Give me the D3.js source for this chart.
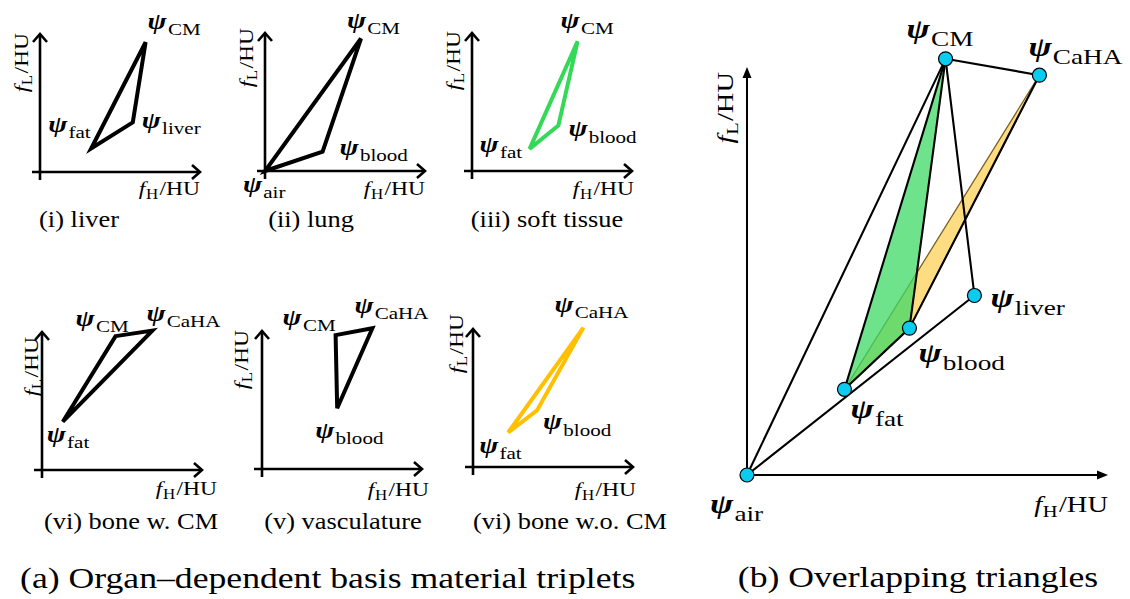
<!DOCTYPE html>
<html><head><meta charset="utf-8">
<script src="https://cdn.jsdelivr.net/npm/d3@7"></script>
<style>body{margin:0;background:#fff} svg{display:block}</style>
</head><body><svg id="c" width="1130" height="599"></svg>
<script>
// ---------- DATA ----------
const panelNames = ["(i) liver", "(ii) lung", "(iii) soft tissue", "(vi) bone w. CM", "(v) vasculature", "(vi) bone w.o. CM"];
const panelMaterials = [["CM","liver","fat"], ["CM","blood","air"], ["CM","blood","fat"], ["CM","CaHA","fat"], ["CM","CaHA","blood"], ["CaHA","blood","fat"]];
const panelFH = [[66,58,32], [60,36,0], [66,54,36], [46,69,13], [46,69,47], [69,40,22]];
const panelFL = [[94,36,17], [96,14,0], [94,33,16], [97,101,35], [97,102,44], [101,41,25]];
const panelColors = ["#000", "#000", "#33d957", "#000", "#000", "#ffc000"];

const overviewMaterials = ["air", "fat", "blood", "liver", "CM", "CaHA"];
const overviewFH = [0, 27, 45, 63, 55, 81];
const overviewFL = [0, 21, 36, 44, 102, 98];
const overviewEdges = [["air","CM"], ["air","liver"], ["CM","CaHA"], ["CM","liver"], ["CM","fat"], ["CM","blood"], ["fat","blood"], ["blood","CaHA"]];
const greenTriangle = ["fat", "CM", "blood"];
const orangeTriangle = ["fat", "blood", "CaHA"];

const captionA = "(a) Organ–dependent basis material triplets";
const captionB = "(b) Overlapping triangles";

// ---------- LAYOUT ----------
const serif = "'Liberation Serif', 'DejaVu Serif', serif";
const origins = [[40,172],[265,171],[472,171],[42,470],[262,469],[473,467]];
const capPos = [[79,227],[311,227],[547,227],[131,529],[343,529],[570,529]];
const fhOff = [[0,23],[0,24],[2,24],[15,25],[7,27],[3,29]];
const flOff = [[-12,-1],[-12,-5],[-12,-2],[-4,5],[-14,-1],[-10,-15]];
const labelOff = [
  {CM:[2,-13], liver:[9,6], fat:[-43,-17]},
  {CM:[-14,-11], blood:[17,3], air:[-22,21]},
  {CM:[-17,-13], blood:[10,11], fat:[-50,3]},
  {CM:[-40,-10], CaHA:[-6,-10], fat:[-16,20]},
  {CM:[-53,-10], CaHA:[-18,-15], blood:[-22,30]},
  {CaHA:[-29,-16], blood:[6,19], fat:[-29,20]}
];
const bLabelOff = {air:[-37,38], fat:[6,29], blood:[9,34], liver:[16,12], CM:[-39,-21], CaHA:[-11,-19]};
const K = 1.24; // horizontal widening to mimic Computer Modern proportions

const svg = d3.select("#c");

function holder(parent, x, y, k, rot) {
  return parent.append("g").attr("transform", `translate(${x},${y})${rot ? ` rotate(${rot})` : ""} scale(${k},1)`);
}
function psi(parent, x, y, sub, size, subSize) {
  const t = holder(parent, x, y, K).append("text").attr("font-family", serif).attr("fill", "#000");
  t.append("tspan").text("ψ").attr("font-weight", "bold").attr("font-style", "italic").attr("font-size", size);
  t.append("tspan").text(sub).attr("font-size", subSize).attr("dy", subSize * 0.36).attr("dx", 1);
  return t;
}
function axisLabel(parent, x, y, letter, size, rotate) {
  const t = holder(parent, x, y, K, rotate ? -90 : 0).append("text").attr("font-family", serif)
    .attr("font-size", size).attr("text-anchor", "end").attr("fill", "#000");
  t.append("tspan").text("f").attr("font-style", "italic");
  t.append("tspan").text(letter).attr("font-size", size * 0.72).attr("dy", size * 0.22).attr("dx", 0.5);
  t.append("tspan").text("/HU").attr("dy", -size * 0.22).attr("dx", 1);
  return t;
}
function caption(parent, x, y, str, size, k, anchor) {
  return holder(parent, x, y, k).append("text").attr("font-family", serif).attr("font-size", size)
    .attr("text-anchor", anchor).attr("fill", "#000").text(str);
}

// ---------- SMALL PANELS ----------
const sx = d3.scaleLinear().domain([0, 100]).range([0, 160]);
const sy = d3.scaleLinear().domain([0, 100]).range([0, -138]);

panelNames.forEach((name, i) => {
  const [ox, oy] = origins[i];
  const g = svg.append("g").attr("transform", `translate(${ox},${oy})`);
  const axW = sx(100), axH = sy(100);
  g.append("line").attr("x1", -8).attr("y1", 0).attr("x2", axW).attr("y2", 0).attr("stroke", "#000").attr("stroke-width", 2.6);
  g.append("line").attr("x1", 0).attr("y1", 8).attr("x2", 0).attr("y2", axH).attr("stroke", "#000").attr("stroke-width", 2.6);
  g.append("path").attr("d", `M${axW - 8},${-7} L${axW},0 L${axW - 8},7`).attr("fill", "none").attr("stroke", "#000").attr("stroke-width", 2.6);
  g.append("path").attr("d", `M${-7},${axH + 8} L0,${axH} L7,${axH + 8}`).attr("fill", "none").attr("stroke", "#000").attr("stroke-width", 2.6);
  const pts = panelFH[i].map((v, k) => [sx(v), sy(panelFL[i][k])]);
  g.append("path").attr("d", d3.line()(pts) + "Z").attr("fill", "none").attr("stroke", panelColors[i]).attr("stroke-width", 4).attr("stroke-linejoin", "miter");
  panelMaterials[i].forEach((m, k) => {
    const [dx, dy] = labelOff[i][m];
    psi(g, pts[k][0] + dx, pts[k][1] + dy, m, 23, 17);
  });
  axisLabel(g, axW + fhOff[i][0], fhOff[i][1], "H", 19, false);
  axisLabel(g, flOff[i][0], axH + flOff[i][1], "L", 19, true);
  caption(svg, capPos[i][0], capPos[i][1], name, 24, 1.1, "middle");
});

// ---------- OVERVIEW PANEL ----------
const bx = d3.scaleLinear().domain([0, 100]).range([747, 1108]);
const by = d3.scaleLinear().domain([0, 100]).range([475, 67]);
const P = {};
overviewMaterials.forEach((m, k) => P[m] = [bx(overviewFH[k]), by(overviewFL[k])]);
const gb = svg.append("g");
gb.append("line").attr("x1", bx(0)).attr("y1", by(0)).attr("x2", bx(100) - 8).attr("y2", by(0)).attr("stroke", "#000").attr("stroke-width", 2);
gb.append("line").attr("x1", bx(0)).attr("y1", by(0)).attr("x2", bx(0)).attr("y2", by(100) + 8).attr("stroke", "#000").attr("stroke-width", 2);
gb.append("path").attr("d", `M${bx(100)},${by(0)} L${bx(100) - 11},${by(0) - 4.5} L${bx(100) - 11},${by(0) + 4.5}Z`).attr("fill", "#000");
gb.append("path").attr("d", `M${bx(0)},${by(100)} L${bx(0) - 4.5},${by(100) + 11} L${bx(0) + 4.5},${by(100) + 11}Z`).attr("fill", "#000");
gb.append("path").attr("d", d3.line()(orangeTriangle.map(m => P[m])) + "Z").attr("fill", "rgb(254,220,130)").attr("stroke", "#7a6222").attr("stroke-width", 1.3);
gb.append("path").attr("d", d3.line()(greenTriangle.map(m => P[m])) + "Z").attr("fill", "rgb(61,217,101)").attr("fill-opacity", 0.75).attr("stroke", "none");
overviewEdges.forEach(([a, b]) => {
  gb.append("line").attr("x1", P[a][0]).attr("y1", P[a][1]).attr("x2", P[b][0]).attr("y2", P[b][1])
    .attr("stroke", "#000").attr("stroke-width", 2.1).attr("stroke-linecap", "round");
});
overviewMaterials.forEach(m => {
  gb.append("circle").attr("cx", P[m][0]).attr("cy", P[m][1]).attr("r", 7).attr("fill", "#0ccbf0").attr("stroke", "#000").attr("stroke-width", 1.2);
  const [dx, dy] = bLabelOff[m];
  psi(gb, P[m][0] + dx, P[m][1] + dy, m, 28, 22);
});
axisLabel(gb, bx(100), by(0) + 37, "H", 23, false);
axisLabel(gb, bx(0) - 14, by(100) + 5, "L", 23, true);

// ---------- CAPTIONS ----------
caption(svg, 20, 588, captionA, 29, 1.23, "start");
caption(svg, 918, 587, captionB, 29, 1.23, "middle");
</script></body></html>
